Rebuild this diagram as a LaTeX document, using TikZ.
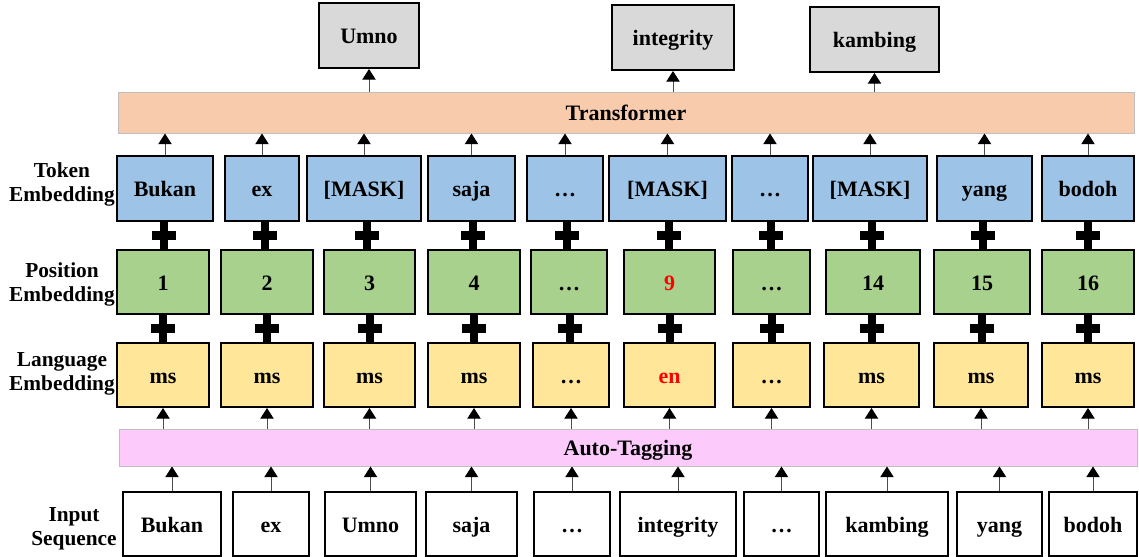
\documentclass[tikz,border=0pt]{standalone}
\usepackage{fontspec}
\setmainfont{Liberation Serif}
\usepackage{xcolor}
\usetikzlibrary{arrows.meta, positioning, calc}
\definecolor{tokenblue}{HTML}{9DC3E6}
\definecolor{posgreen}{HTML}{A9D18E}
\definecolor{langyellow}{HTML}{FFE699}
\definecolor{transorange}{HTML}{F8CBAD}
\definecolor{tagpink}{HTML}{FCCBFC}
\definecolor{outgray}{HTML}{D9D9D9}
\tikzset{
    box/.style={draw, line width=1.5pt, inner sep=0pt, minimum height=48pt,
        text height=12pt, text depth=0pt,
        font=\bfseries\fontsize{16.5}{19}\selectfont}, % every word box
    bar/.style={draw=black!25, line width=0.75pt, inner sep=0pt,
        text height=12pt, text depth=0pt,
        font=\bfseries\fontsize{16.5}{19}\selectfont}, % the two wide layers
    rowlabel/.style={align=center, font=\bfseries\fontsize{16}{18}\selectfont},
    plussign/.pic={
        \fill[black] (-4,-14.5) rectangle (4,14.5);
        \fill[black] (-12,-4.5) rectangle (12,4.5);
    },
}
\tikzstyle{arrow} = [draw=black!70, line width=0.75pt, -{Triangle[width=10pt, length=8pt, color=black]}]

\begin{document}
\begin{tikzpicture}[x=0.75pt, y=-0.75pt]
    \useasboundingbox (0,0) rectangle (1139,557);

    % outputs and transformer
    \node[box, fill=outgray, minimum width=75pt, minimum height=48.75pt] (out1) at (369,35.5) {Umno};
    \node[box, fill=outgray, minimum width=91.5pt, minimum height=48.75pt] (out2) at (673,37.5) {integrity};
    \node[box, fill=outgray, minimum width=96.75pt, minimum height=48.75pt] (out3) at (874.5,39.5) {kambing};
    \node[bar, fill=transorange, minimum width=762pt, minimum height=30.75pt] (trans) at (626,112.5) {Transformer};

    % the four rows
    \foreach \i/\l/\r/\txt in {1/117/213/Bukan, 2/225/299/ex, 3/307/421/{[MASK]}, 4/428/515/saja,
            5/527/603/…, 6/609/726/{[MASK]}, 7/732/808/…, 8/813/927/{[MASK]}, 9/937/1032/yang, 10/1042/1134/bodoh}
        \node[box, fill=tokenblue, minimum width={(\r-\l)*0.75pt}, minimum height=48.75pt] (tok\i) at ({(\l+\r)/2},188.5) {\txt};
    \foreach \i/\l/\r/\txt in {1/117/209/1, 2/221/313/2, 3/324/415/3, 4/428/520/4,
            5/531/607/…, 6/624/715/{\color{red}9}, 7/733/810/…, 8/826/920/14, 9/934/1030/15, 10/1042/1134/16}
        \node[box, fill=posgreen, minimum width={(\r-\l)*0.75pt}] (pos\i) at ({(\l+\r)/2},282) {\txt};
    \foreach \i/\l/\r/\txt in {1/117/209/ms, 2/221/313/ms, 3/324/415/ms, 4/428/520/ms,
            5/533/609/…, 6/624/715/{\color{red}en}, 7/733/810/…, 8/824/919/ms, 9/934/1028/ms, 10/1042/1134/ms}
        \node[box, fill=langyellow, minimum width={(\r-\l)*0.75pt}] (lang\i) at ({(\l+\r)/2},375) {\txt};
    \node[bar, fill=tagpink, minimum width=763.5pt, minimum height=27.75pt] (tag) at (628,447.5) {Auto-Tagging};
    \foreach \i/\l/\r/\txt in {1/123/221/Bukan, 2/233/309/ex, 3/325/416/Umno, 4/426/517/saja,
            5/534/610/…, 6/620/736/integrity, 7/744/819/…, 8/826/948/kambing, 9/957/1042/yang, 10/1049/1137/bodoh}
        \node[box, fill=white, minimum width={(\r-\l)*0.75pt}] (in\i) at ({(\l+\r)/2},524) {\txt};

    % row labels
    \node[rowlabel] (toklabel) at (62,184) {Token\\Embedding};
    \node[rowlabel] (poslabel) at (62,284.5) {Position\\Embedding};
    \node[rowlabel] (langlabel) at (62,374) {Language\\Embedding};
    \node[rowlabel] (inlabel) at (74,528.5) {Input\\Sequence};

    % connections
    \foreach \i in {1,...,3}
        \draw[arrow] (out\i.south |- trans.north) -- (out\i.south);
    \foreach \i in {1,...,10} {
        \draw[arrow] (tok\i.north) -- (tok\i.north |- trans.south);
        \pic at ($(tok\i.south)!0.5!(pos\i.north)$) {plussign};
        \pic at ($(pos\i.south)!0.5!(lang\i.north)$) {plussign};
        \draw[arrow] (lang\i.south |- tag.north) -- (lang\i.south);
        \draw[arrow] (in\i.north) -- (in\i.north |- tag.south);
    }
\end{tikzpicture}
\end{document}
